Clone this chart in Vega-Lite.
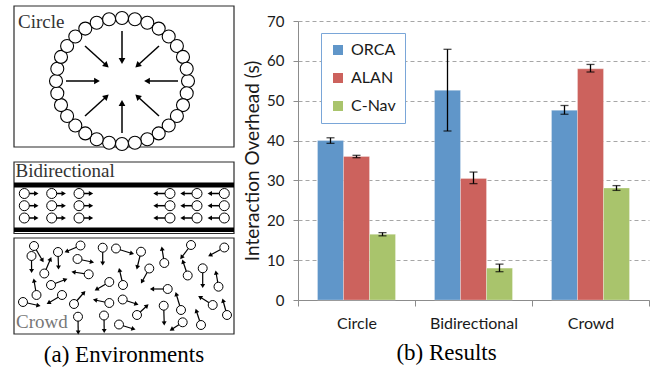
{
  "$schema": "https://vega.github.io/schema/vega-lite/v6.json",
  "background": "white",
  "padding": {"left": 13, "top": 5, "right": 0, "bottom": 0},
  "bounds": "flush",
  "spacing": 64,
  "resolve": {"scale": {"color": "independent"}, "legend": {"color": "independent"}},
  "config": {"view": {"stroke": null}},
  "datasets": {
    "boxes": [
      {"x": 13, "x2": 233, "y": 5, "y2": 146},
      {"x": 13, "x2": 233, "y": 161, "y2": 232.5},
      {"x": 13, "x2": 233, "y": 237, "y2": 333}
    ],
    "walls": [
      {"x": 13, "x2": 233, "y": 181.5, "y2": 186.5},
      {"x": 13, "x2": 233, "y": 226.5, "y2": 231}
    ],
    "labels": [
      {"x": 17, "y": 27, "label": "Circle", "kind": "dark"},
      {"x": 14.5, "y": 176, "label": "Bidirectional", "kind": "dark"},
      {"x": 15, "y": 327, "label": "Crowd", "kind": "light"}
    ],
    "ring": [
      {"x": 187, "y": 80}, {"x": 185.7, "y": 92.3}, {"x": 182, "y": 104.1}, {"x": 175.9, "y": 115},
      {"x": 167.7, "y": 124.5}, {"x": 157.7, "y": 132.4}, {"x": 146.3, "y": 138.2}, {"x": 133.9, "y": 141.8},
      {"x": 121, "y": 143}, {"x": 108.1, "y": 141.8}, {"x": 95.7, "y": 138.2}, {"x": 84.3, "y": 132.4},
      {"x": 74.3, "y": 124.5}, {"x": 66.1, "y": 115}, {"x": 60, "y": 104.1}, {"x": 56.3, "y": 92.3},
      {"x": 55, "y": 80}, {"x": 56.3, "y": 67.7}, {"x": 60, "y": 55.9}, {"x": 66.1, "y": 45},
      {"x": 74.3, "y": 35.5}, {"x": 84.3, "y": 27.6}, {"x": 95.7, "y": 21.8}, {"x": 108.1, "y": 18.2},
      {"x": 121, "y": 17}, {"x": 133.9, "y": 18.2}, {"x": 146.3, "y": 21.8}, {"x": 157.7, "y": 27.6},
      {"x": 167.7, "y": 35.5}, {"x": 175.9, "y": 45}, {"x": 182, "y": 55.9}, {"x": 185.7, "y": 67.7}
    ],
    "ringArrows": [
      {"x": 121, "y": 30, "tx": 121, "ty": 60, "a": 180},
      {"x": 121, "y": 132, "tx": 121, "ty": 102, "a": 0},
      {"x": 65, "y": 80, "tx": 96, "ty": 80, "a": 90},
      {"x": 177, "y": 80, "tx": 146, "ty": 80, "a": 270},
      {"x": 84, "y": 45, "tx": 105.5, "ty": 64.5, "a": 132},
      {"x": 158, "y": 45, "tx": 136.5, "ty": 64.5, "a": 228},
      {"x": 84, "y": 115, "tx": 105.5, "ty": 95.5, "a": 48},
      {"x": 158, "y": 115, "tx": 136.5, "ty": 95.5, "a": 312}
    ],
    "bidir": [
      {"x": 23.3, "y": 192.5, "tx": 35.3, "ty": 192.5, "a": 90},
      {"x": 50.7, "y": 192.5, "tx": 62.7, "ty": 192.5, "a": 90},
      {"x": 78, "y": 192.5, "tx": 90, "ty": 192.5, "a": 90},
      {"x": 23.3, "y": 204.7, "tx": 35.3, "ty": 204.7, "a": 90},
      {"x": 50.7, "y": 204.7, "tx": 62.7, "ty": 204.7, "a": 90},
      {"x": 78, "y": 204.7, "tx": 90, "ty": 204.7, "a": 90},
      {"x": 23.3, "y": 217, "tx": 35.3, "ty": 217, "a": 90},
      {"x": 50.7, "y": 217, "tx": 62.7, "ty": 217, "a": 90},
      {"x": 78, "y": 217, "tx": 90, "ty": 217, "a": 90},
      {"x": 169, "y": 192.5, "tx": 154.5, "ty": 192.5, "a": 270},
      {"x": 196, "y": 192.5, "tx": 181.5, "ty": 192.5, "a": 270},
      {"x": 223.3, "y": 192.5, "tx": 208.8, "ty": 192.5, "a": 270},
      {"x": 169, "y": 204.7, "tx": 154.5, "ty": 204.7, "a": 270},
      {"x": 196, "y": 204.7, "tx": 181.5, "ty": 204.7, "a": 270},
      {"x": 223.3, "y": 204.7, "tx": 208.8, "ty": 204.7, "a": 270},
      {"x": 169, "y": 217, "tx": 154.5, "ty": 217, "a": 270},
      {"x": 196, "y": 217, "tx": 181.5, "ty": 217, "a": 270},
      {"x": 223.3, "y": 217, "tx": 208.8, "ty": 217, "a": 270}
    ],
    "crowd": [
      {"x": 33, "y": 245, "tx": 41.5, "ty": 259.5, "a": 150},
      {"x": 30.5, "y": 255, "tx": 30.6, "ty": 270, "a": 180},
      {"x": 57, "y": 251, "tx": 57.5, "ty": 266.5, "a": 180},
      {"x": 79.5, "y": 244.5, "tx": 65.5, "ty": 250.5, "a": 247},
      {"x": 76.5, "y": 258, "tx": 91, "ty": 261, "a": 102},
      {"x": 101.7, "y": 246.7, "tx": 101.7, "ty": 262.5, "a": 180},
      {"x": 115, "y": 247.5, "tx": 131, "ty": 252.5, "a": 107},
      {"x": 43.3, "y": 272.5, "tx": 49.5, "ty": 258, "a": 24},
      {"x": 87.7, "y": 273.3, "tx": 72.5, "ty": 271, "a": 279},
      {"x": 35.5, "y": 294, "tx": 33, "ty": 279.5, "a": 349},
      {"x": 50, "y": 284, "tx": 64.5, "ty": 278.5, "a": 69},
      {"x": 61, "y": 294, "tx": 47.5, "ty": 302, "a": 240},
      {"x": 22, "y": 301, "tx": 37.5, "ty": 304.5, "a": 103},
      {"x": 73, "y": 303, "tx": 83, "ty": 291.5, "a": 40},
      {"x": 108.3, "y": 281, "tx": 95.5, "ty": 288.5, "a": 239},
      {"x": 108.3, "y": 302, "tx": 94, "ty": 299, "a": 281},
      {"x": 121.7, "y": 298.5, "tx": 135.5, "ty": 303, "a": 108},
      {"x": 77, "y": 315.7, "tx": 77.2, "ty": 331.5, "a": 180},
      {"x": 103, "y": 314.5, "tx": 103.2, "ty": 330, "a": 180},
      {"x": 118, "y": 323.5, "tx": 132.5, "ty": 328, "a": 107},
      {"x": 122, "y": 284, "tx": 118.5, "ty": 269, "a": 347},
      {"x": 140, "y": 250.7, "tx": 136.2, "ty": 266.5, "a": 194},
      {"x": 163.3, "y": 262, "tx": 161, "ty": 247.5, "a": 351},
      {"x": 190, "y": 244, "tx": 180.5, "ty": 256.5, "a": 217},
      {"x": 223.3, "y": 246.5, "tx": 209, "ty": 254.3, "a": 241},
      {"x": 148.3, "y": 267.5, "tx": 141, "ty": 280.7, "a": 209},
      {"x": 186.7, "y": 274.5, "tx": 182, "ty": 260.5, "a": 341},
      {"x": 201.7, "y": 267.3, "tx": 201.7, "ty": 285, "a": 180},
      {"x": 217.5, "y": 285.7, "tx": 215, "ty": 271.5, "a": 350},
      {"x": 166.7, "y": 288, "tx": 151, "ty": 288, "a": 270},
      {"x": 136, "y": 314, "tx": 146, "ty": 304.7, "a": 47},
      {"x": 162.7, "y": 304.7, "tx": 163.2, "ty": 322.5, "a": 178},
      {"x": 180, "y": 309, "tx": 175.2, "ty": 293, "a": 343},
      {"x": 211.7, "y": 304, "tx": 199, "ty": 296, "a": 302},
      {"x": 226, "y": 314, "tx": 222, "ty": 299.5, "a": 344},
      {"x": 181.7, "y": 321.3, "tx": 170.5, "ty": 328.5, "a": 237},
      {"x": 200, "y": 324, "tx": 195.3, "ty": 309.7, "a": 342}
    ],
    "results": [
      {"env": "Circle", "method": "ORCA", "value": 40.0, "lo": 39.3, "hi": 40.7},
      {"env": "Circle", "method": "ALAN", "value": 36.0, "lo": 35.7, "hi": 36.3},
      {"env": "Circle", "method": "C-Nav", "value": 16.5, "lo": 16.1, "hi": 16.9},
      {"env": "Bidirectional", "method": "ORCA", "value": 52.6, "lo": 42.4, "hi": 62.9},
      {"env": "Bidirectional", "method": "ALAN", "value": 30.5, "lo": 29.2, "hi": 32.1},
      {"env": "Bidirectional", "method": "C-Nav", "value": 8.0, "lo": 7.1, "hi": 9.0},
      {"env": "Crowd", "method": "ORCA", "value": 47.6, "lo": 46.6, "hi": 48.8},
      {"env": "Crowd", "method": "ALAN", "value": 58.0, "lo": 57.2, "hi": 59.1},
      {"env": "Crowd", "method": "C-Nav", "value": 28.1, "lo": 27.5, "hi": 28.7}
    ]
  },
  "hconcat": [
    {
      "width": 220,
      "height": 313,
      "title": {"text": "(a) Environments", "orient": "bottom", "frame": "bounds", "anchor": "middle", "font": "Liberation Serif", "fontSize": 23, "fontWeight": "normal", "color": "black", "offset": 9},
      "encoding": {
        "x": {"field": "x", "type": "quantitative", "scale": {"domain": [13, 233], "nice": false, "zero": false}, "axis": null},
        "y": {"field": "y", "type": "quantitative", "scale": {"domain": [20, 333], "reverse": true, "nice": false, "zero": false}, "axis": null}
      },
      "layer": [
        {
          "data": {"name": "boxes"},
          "mark": {"type": "rect", "filled": false, "fill": null, "stroke": "#2a2a2a", "strokeWidth": 1.2},
          "encoding": {"x2": {"field": "x2"}, "y2": {"field": "y2"}}
        },
        {
          "data": {"name": "walls"},
          "mark": {"type": "rect", "color": "black"},
          "encoding": {"x2": {"field": "x2"}, "y2": {"field": "y2"}}
        },
        {
          "data": {"name": "ringArrows"},
          "mark": {"type": "rule", "color": "black", "strokeWidth": 1.5},
          "encoding": {"x2": {"field": "tx"}, "y2": {"field": "ty"}}
        },
        {
          "data": {"name": "ringArrows"},
          "mark": {"type": "point", "shape": "triangle-up", "filled": true, "color": "black", "size": 45, "opacity": 1},
          "encoding": {
            "x": {"field": "tx", "type": "quantitative", "scale": {"domain": [13, 233], "nice": false, "zero": false}, "axis": null},
            "y": {"field": "ty", "type": "quantitative", "scale": {"domain": [20, 333], "reverse": true, "nice": false, "zero": false}, "axis": null},
            "angle": {"field": "a", "type": "quantitative", "scale": null}
          }
        },
        {
          "data": {"name": "ring"},
          "mark": {"type": "point", "shape": "circle", "filled": true, "fill": "white", "stroke": "black", "strokeWidth": 1.1, "size": 169, "opacity": 1}
        },
        {
          "data": {"name": "bidir"},
          "mark": {"type": "rule", "color": "black", "strokeWidth": 1.5},
          "encoding": {"x2": {"field": "tx"}, "y2": {"field": "ty"}}
        },
        {
          "data": {"name": "bidir"},
          "mark": {"type": "point", "shape": "triangle-up", "filled": true, "color": "black", "size": 26, "opacity": 1},
          "encoding": {
            "x": {"field": "tx", "type": "quantitative", "scale": {"domain": [13, 233], "nice": false, "zero": false}, "axis": null},
            "y": {"field": "ty", "type": "quantitative", "scale": {"domain": [20, 333], "reverse": true, "nice": false, "zero": false}, "axis": null},
            "angle": {"field": "a", "type": "quantitative", "scale": null}
          }
        },
        {
          "data": {"name": "bidir"},
          "mark": {"type": "point", "shape": "circle", "filled": true, "fill": "white", "stroke": "black", "strokeWidth": 1, "size": 100, "opacity": 1}
        },
        {
          "data": {"name": "crowd"},
          "mark": {"type": "rule", "color": "black", "strokeWidth": 1.2},
          "encoding": {"x2": {"field": "tx"}, "y2": {"field": "ty"}}
        },
        {
          "data": {"name": "crowd"},
          "mark": {"type": "point", "shape": "triangle-up", "filled": true, "color": "black", "size": 24, "opacity": 1},
          "encoding": {
            "x": {"field": "tx", "type": "quantitative", "scale": {"domain": [13, 233], "nice": false, "zero": false}, "axis": null},
            "y": {"field": "ty", "type": "quantitative", "scale": {"domain": [20, 333], "reverse": true, "nice": false, "zero": false}, "axis": null},
            "angle": {"field": "a", "type": "quantitative", "scale": null}
          }
        },
        {
          "data": {"name": "crowd"},
          "mark": {"type": "point", "shape": "circle", "filled": true, "fill": "white", "stroke": "black", "strokeWidth": 1, "size": 80, "opacity": 1}
        },
        {
          "data": {"name": "labels"},
          "transform": [{"filter": "datum.kind == 'dark'"}],
          "mark": {"type": "text", "align": "left", "baseline": "alphabetic", "font": "Liberation Serif", "fontSize": 19, "color": "#333333"},
          "encoding": {"text": {"field": "label"}}
        },
        {
          "data": {"name": "labels"},
          "transform": [{"filter": "datum.kind == 'light'"}],
          "mark": {"type": "text", "align": "left", "baseline": "alphabetic", "font": "Liberation Serif", "fontSize": 19, "color": "#777777"},
          "encoding": {"text": {"field": "label"}}
        }
      ]
    },
    {
      "width": 351,
      "height": 279,
      "data": {"name": "results"},
      "title": {"text": "(b) Results", "orient": "bottom", "frame": "bounds", "anchor": "middle", "font": "Liberation Serif", "fontSize": 23, "fontWeight": "normal", "color": "black", "offset": 11},
      "encoding": {
        "x": {
          "field": "env", "type": "nominal", "sort": ["Circle", "Bidirectional", "Crowd"],
          "scale": {"paddingInner": 0, "paddingOuter": 0},
          "axis": {"title": null, "labelAngle": 0, "tickBand": "extent", "tickSize": 6, "tickColor": "#8c8c8c", "domainColor": "#8c8c8c", "labelFont": "Lato", "labelFontSize": 16, "labelColor": "#1a1a1a", "labelPadding": 9, "grid": false}
        },
        "xOffset": {"field": "method", "type": "nominal", "sort": ["ORCA", "ALAN", "C-Nav"], "scale": {"paddingInner": 0, "paddingOuter": 0.75}}
      },
      "layer": [
        {
          "mark": {"type": "bar", "stroke": "white", "strokeOpacity": 0.35, "strokeWidth": 0.8},
          "encoding": {
            "y": {
              "field": "value", "type": "quantitative", "title": "Interaction Overhead (s)",
              "scale": {"domain": [0, 70], "nice": false},
              "axis": {"values": [0, 10, 20, 30, 40, 50, 60, 70], "labelOverlap": false, "titleFont": "Lato", "titleFontSize": 19, "titleFontWeight": "normal", "titleColor": "#1a1a1a", "titlePadding": 4, "labelFont": "Lato", "labelFontSize": 15, "labelColor": "#1a1a1a", "labelPadding": 9, "tickSize": 5, "tickColor": "#8c8c8c", "domainColor": "#8c8c8c", "grid": true, "gridColor": "#a6a6a6", "gridDash": [4, 3]}
            },
            "color": {
              "field": "method", "type": "nominal", "sort": ["ORCA", "ALAN", "C-Nav"],
              "scale": {"domain": ["ORCA", "ALAN", "C-Nav"], "range": ["#6096C9", "#CC625D", "#A9C46C"]},
              "legend": {"orient": "none", "legendX": 23, "legendY": 12, "title": null, "symbolType": "square", "symbolSize": 100, "symbolStrokeWidth": 0, "labelFont": "Lato", "labelFontSize": 16, "labelColor": "#1a1a1a", "labelOffset": 5, "padding": 9, "rowPadding": 12, "strokeColor": "#7AA6D8", "fillColor": "white"}
            }
          }
        },
        {
          "mark": {"type": "rule", "color": "black", "strokeWidth": 1.3},
          "encoding": {
            "y": {"field": "lo", "type": "quantitative", "title": "Interaction Overhead (s)", "scale": {"domain": [0, 70], "nice": false}, "axis": {"values": [0, 10, 20, 30, 40, 50, 60, 70], "labelOverlap": false}},
            "y2": {"field": "hi"}
          }
        },
        {
          "mark": {"type": "tick", "color": "black", "thickness": 1.3, "size": 8},
          "encoding": {"y": {"field": "lo", "type": "quantitative", "title": "Interaction Overhead (s)", "scale": {"domain": [0, 70], "nice": false}, "axis": {"values": [0, 10, 20, 30, 40, 50, 60, 70], "labelOverlap": false}}}
        },
        {
          "mark": {"type": "tick", "color": "black", "thickness": 1.3, "size": 8},
          "encoding": {"y": {"field": "hi", "type": "quantitative", "title": "Interaction Overhead (s)", "scale": {"domain": [0, 70], "nice": false}, "axis": {"values": [0, 10, 20, 30, 40, 50, 60, 70], "labelOverlap": false}}}
        }
      ]
    }
  ]
}
